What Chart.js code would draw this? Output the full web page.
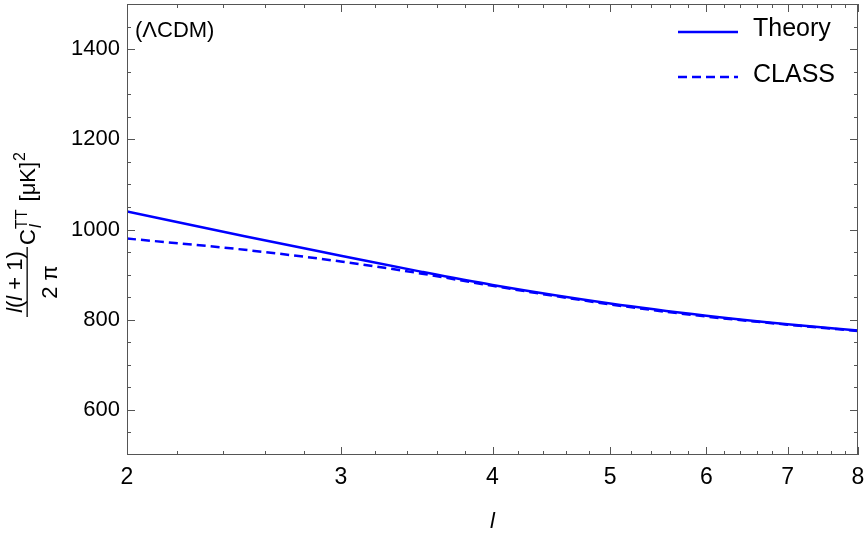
<!DOCTYPE html>
<html>
<head>
<meta charset="utf-8">
<script src="https://cdn.jsdelivr.net/npm/chart.js@4"></script>
<style>
  html, body { margin: 0; padding: 0; background: #fff; }
  #wrap { width: 865px; height: 536px; }
</style>
</head>
<body>
<div id="wrap"><canvas id="clChart" width="865" height="536"></canvas></div>
<script>
// multipole values and the two TT spectra
const ELL = [2, 2.5, 3, 3.5, 4, 5, 6, 7, 8];
const THEORY = [1040, 985, 942, 906, 877, 836, 809, 790, 776];
const CLASS_TT = [980, 955, 929, 902, 875, 834, 807, 789, 775];

const X_TICKS = [2, 3, 4, 5, 6, 7, 8];
const X_MINOR = [2.2, 2.4, 2.6, 2.8, 3.2, 3.4, 3.6, 3.8, 4.2, 4.4, 4.6, 4.8,
  5.2, 5.4, 5.6, 5.8, 6.2, 6.4, 6.6, 6.8, 7.2, 7.4, 7.6, 7.8];
const Y_TICKS = [600, 800, 1000, 1200, 1400];
const Y_MINOR = [550, 650, 700, 750, 850, 900, 950, 1050, 1100, 1150, 1250, 1300, 1350, 1450];

const FONT = "'Liberation Sans', Arial, sans-serif";
const FRAME = "#555";
const BLUE = "#0000ff";

function toPoints(values) {
  return values.map((v, i) => ({ x: ELL[i], y: v }));
}

// frame with inward ticks on all four sides (Mathematica style)
const frameTicks = {
  id: "frameTicks",
  afterDatasetsDraw(chart) {
    const { ctx, chartArea: a, scales } = chart;
    ctx.save();
    ctx.strokeStyle = FRAME;
    ctx.lineWidth = 1;
    ctx.strokeRect(a.left + 0.5, a.top + 0.5, a.right - a.left - 1, a.bottom - a.top - 1);
    ctx.beginPath();
    function xTick(v, len) {
      const px = Math.round(scales.x.getPixelForValue(v)) + 0.5;
      ctx.moveTo(px, a.bottom); ctx.lineTo(px, a.bottom - len);
      ctx.moveTo(px, a.top); ctx.lineTo(px, a.top + len);
    }
    function yTick(v, len) {
      const py = Math.round(scales.y.getPixelForValue(v)) + 0.5;
      ctx.moveTo(a.left, py); ctx.lineTo(a.left + len, py);
      ctx.moveTo(a.right, py); ctx.lineTo(a.right - len, py);
    }
    X_TICKS.forEach((v) => xTick(v, 8));
    X_MINOR.forEach((v) => xTick(v, 4));
    Y_TICKS.forEach((v) => yTick(v, 8));
    Y_MINOR.forEach((v) => yTick(v, 4));
    ctx.stroke();
    ctx.restore();
  },
};

// legend, panel label and the axis titles
const annotations = {
  id: "annotations",
  afterDraw(chart) {
    const { ctx, chartArea: a } = chart;
    ctx.save();
    ctx.fillStyle = "#000";
    ctx.textBaseline = "alphabetic";

    ctx.font = "22px " + FONT;
    ctx.fillText("(\u039BCDM)", a.left + 8, 37);

    // legend
    const items = [
      { label: chart.data.datasets[0].label, dash: [], y: 32, base: 36 },
      { label: chart.data.datasets[1].label, dash: [9, 5], y: 77, base: 82 },
    ];
    items.forEach((it) => {
      ctx.strokeStyle = BLUE;
      ctx.lineWidth = 2.5;
      ctx.setLineDash(it.dash);
      ctx.beginPath();
      ctx.moveTo(678, it.y);
      ctx.lineTo(738, it.y);
      ctx.stroke();
      ctx.setLineDash([]);
      ctx.font = "25px " + FONT;
      ctx.fillText(it.label, 753, it.base);
    });

    // x title
    ctx.font = "italic 22px " + FONT;
    ctx.textAlign = "center";
    ctx.fillText("l", (a.left + a.right) / 2, 528);
    ctx.textAlign = "left";

    // y title, rotated: u runs up the canvas, v runs right
    ctx.translate(0, 317);
    ctx.rotate(-Math.PI / 2);
    const big = "22px " + FONT, bigI = "italic 22px " + FONT;
    const sm = "16px " + FONT, smI = "italic 16px " + FONT;
    function run(parts, u, v) {
      parts.forEach(([t, f]) => {
        ctx.font = f;
        ctx.fillText(t, u, v);
        u += ctx.measureText(t).width;
      });
      return u;
    }
    function width(parts) {
      let w = 0;
      parts.forEach(([t, f]) => { ctx.font = f; w += ctx.measureText(t).width; });
      return w;
    }
    const num = [["l", bigI], ["(", big], ["l", bigI], [" + 1)", big]];
    const den = [["2 \u03C0", big]];
    const barLen = 70;
    run(num, (barLen - width(num)) / 2, 22);
    run(den, (barLen - width(den)) / 2, 57);
    ctx.fillRect(0, 26.5, barLen, 1.3);
    let u = run([["C", big]], 72, 35);
    run([["l", smI]], u + 1, 41);
    u = run([["TT", sm]], u, 27);
    u = run([[" [\u03BCK]", big]], u + 2, 35);
    run([["2", sm]], u + 1, 25);
    ctx.restore();
  },
};

new Chart(document.getElementById("clChart"), {
  type: "line",
  data: {
    datasets: [
      {
        label: "Theory",
        data: toPoints(THEORY),
        borderColor: BLUE,
        borderWidth: 2.5,
        pointRadius: 0,
        cubicInterpolationMode: "monotone",
        fill: false,
      },
      {
        label: "CLASS",
        data: toPoints(CLASS_TT),
        borderColor: BLUE,
        borderWidth: 2.5,
        borderDash: [9, 5],
        pointRadius: 0,
        cubicInterpolationMode: "monotone",
        fill: false,
      },
    ],
  },
  options: {
    responsive: false,
    animation: false,
    layout: { padding: { left: 0, right: 7, top: 4, bottom: 0 } },
    plugins: { legend: { display: false }, tooltip: { enabled: false } },
    scales: {
      x: {
        type: "logarithmic",
        min: 2,
        max: 8,
        grid: { display: false, drawTicks: false },
        border: { display: false },
        afterBuildTicks: (s) => { s.ticks = X_TICKS.map((v) => ({ value: v })); },
        afterFit: (s) => {
          s.height = 81;
          s.paddingLeft = 0;
          s.paddingRight = 0;
        },
        ticks: {
          color: "#000",
          padding: 9,
          maxRotation: 0,
          autoSkip: false,
          font: { family: FONT, size: 23 },
          callback: (v) => String(v),
        },
      },
      y: {
        type: "linear",
        min: 500,
        max: 1500,
        grid: { display: false, drawTicks: false },
        border: { display: false },
        afterBuildTicks: (s) => { s.ticks = Y_TICKS.map((v) => ({ value: v })); },
        afterFit: (s) => {
          s.width = 127;
          s.paddingTop = 0;
          s.paddingBottom = 0;
        },
        ticks: {
          color: "#000",
          padding: 7,
          font: { family: FONT, size: 22 },
          callback: (v) => String(v),
        },
      },
    },
  },
  plugins: [frameTicks, annotations],
});
</script>
</body>
</html>
